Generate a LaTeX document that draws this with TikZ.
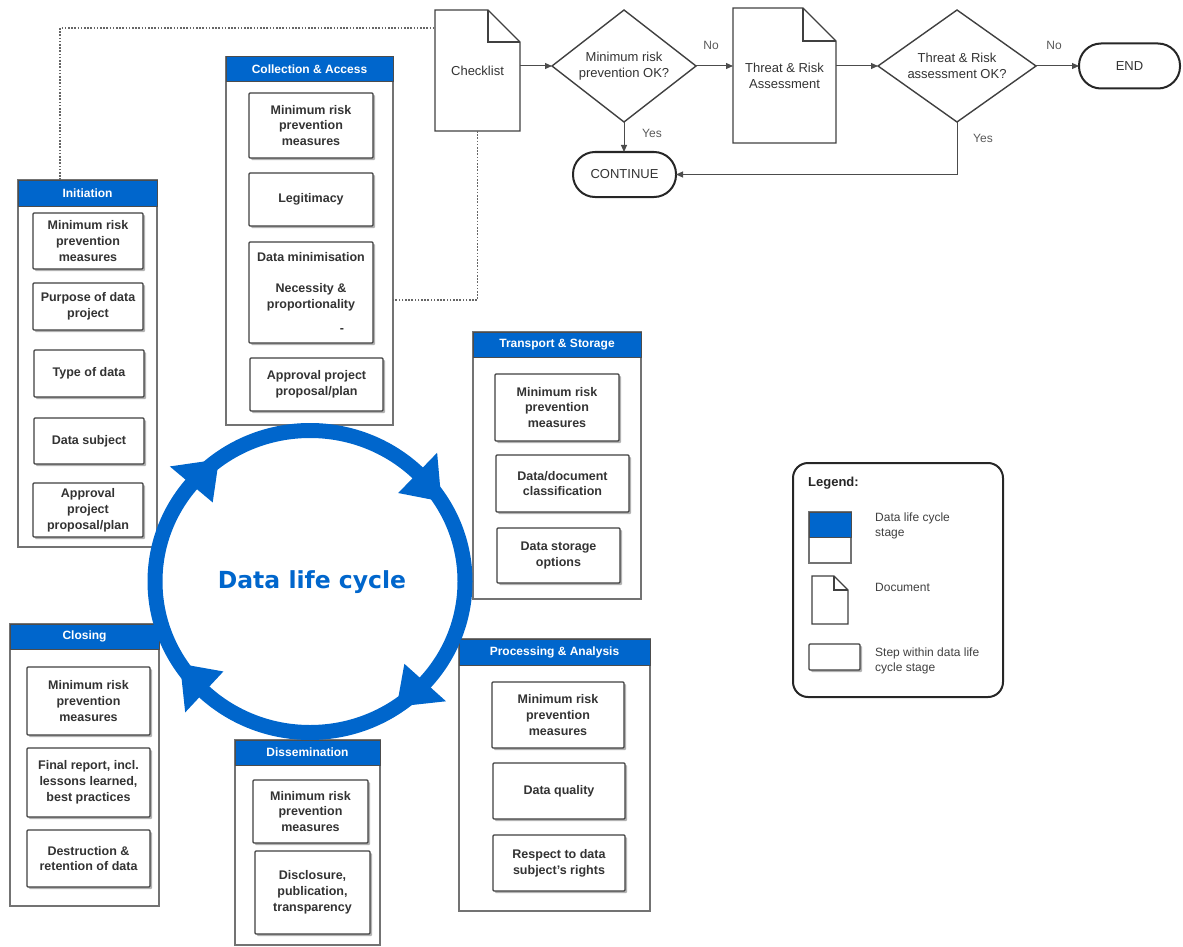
\documentclass[tikz,border=0pt]{standalone}
\usepackage{fontspec}
\setmainfont{Liberation Sans}
\newfontfamily\djv{DejaVu Sans}
\usetikzlibrary{arrows.meta,shadows,calc}
\definecolor{dlblue}{HTML}{0066CC}
\newcommand\boxfnt{\fontsize{12.5}{15.8}\selectfont\bfseries}
\newcommand\headfnt{\fontsize{12}{14}\selectfont\bfseries}
\newcommand\flowfnt{\fontsize{13}{16}\selectfont}
\newcommand\legfnt{\fontsize{12}{15}\selectfont}
\newcommand\boxat[7]{\node[#1, anchor=north west, minimum width={(#4)-(#2)}, minimum height={(#5)-(#3)}] (#6) at (#2,#3) {#7};}
\newcommand\docshape[2]{%
  \draw[docline] (#1.north west) -- ($(#1.north east)+(-#2,0)$) -- ($(#1.north east)+(0,#2)$) -- (#1.south east) -- (#1.south west) -- cycle;
  \draw[docline] ($(#1.north east)+(-#2,0)$) -- ($(#1.north east)+(-#2,#2)$) -- ($(#1.north east)+(0,#2)$);}
\begin{document}
\begin{tikzpicture}[x=1pt,y=-1pt,
  stagebox/.style={draw=black!55, line width=1.2pt, fill=white, inner sep=0pt, outer sep=0pt},
  stagehead/.style={draw=black!70, line width=1pt, fill=dlblue, text=white, font=\headfnt, inner sep=0pt, outer sep=0pt},
  stepbox/.style={draw=black!75, line width=1.2pt, fill=white, rounded corners=1pt, align=center, font=\boxfnt, text=black!80, inner sep=0pt, outer sep=0pt, drop shadow={shadow xshift=2pt, shadow yshift=-2pt, fill=black!30, opacity=1}},
  legbox/.style={draw=black!85, line width=2pt, rounded corners=15, fill=white, inner sep=0pt, outer sep=0pt},
  docnode/.style={align=center, font=\flowfnt, text=black!80, inner sep=0pt, outer sep=0pt},
  docline/.style={draw=black!75, line width=1.2pt, line join=miter},
  dline/.style={draw=black!75, line width=1.4pt},
  term/.style={draw=black!85, line width=2pt, rounded corners=22, font=\flowfnt, text=black!80, inner sep=0pt, outer sep=0pt},
  arr/.style={draw=black!70, line width=1pt, -{Triangle[length=7pt,width=6pt]}},
  dotline/.style={draw=black!60, line width=1.2pt, dash pattern=on 1.6pt off 1.6pt},
  lbl/.style={font=\fontsize{12}{14}\selectfont, text=black!65, inner sep=0pt},
  legtext/.style={font=\legfnt, text=black!75, align=left, inner sep=0pt, anchor=west},
]
\useasboundingbox (0,0) rectangle (1183,947);

% ---------- Initiation ----------
\boxat{stagebox}{18}{180}{157}{547}{init}{}
\boxat{stagehead}{18}{180}{157}{206}{inith}{Initiation}
\boxat{stepbox}{33}{213}{143}{269}{i1}{Minimum risk\\prevention\\measures}
\boxat{stepbox}{33}{283}{143}{330}{i2}{Purpose of data\\project}
\boxat{stepbox}{34}{350}{144}{397}{i3}{Type of data}
\boxat{stepbox}{34}{418}{144}{464}{i4}{Data subject}
\boxat{stepbox}{33}{483}{143}{537}{i5}{Approval\\project\\proposal/plan}

% ---------- Collection & Access ----------
\boxat{stagebox}{226}{57}{393}{425}{coll}{}
\boxat{stagehead}{226}{57}{393}{82}{collh}{Collection \& Access}
\boxat{stepbox}{249}{93}{373}{158}{c1}{Minimum risk\\prevention\\measures}
\boxat{stepbox}{249}{173}{373}{226}{c2}{Legitimacy}
\boxat{stepbox}{249}{242}{373}{343}{c3}{Data minimisation\\[15pt]Necessity \&\\proportionality\\[8pt]\hspace*{62pt}-}
\boxat{stepbox}{250}{358}{383}{411}{c4}{Approval project\\proposal/plan}

% ---------- Transport & Storage ----------
\boxat{stagebox}{473}{332}{641}{599}{trans}{}
\boxat{stagehead}{473}{332}{641}{357}{transh}{Transport \& Storage}
\boxat{stepbox}{495}{374}{619}{441}{t1}{Minimum risk\\prevention\\measures}
\boxat{stepbox}{496}{455}{629}{512}{t2}{Data/document\\classification}
\boxat{stepbox}{497}{528}{620}{583}{t3}{Data storage\\options}

% ---------- Processing & Analysis ----------
\boxat{stagebox}{459}{639}{650}{911}{proc}{}
\boxat{stagehead}{459}{639}{650}{665}{proch}{Processing \& Analysis}
\boxat{stepbox}{492}{682}{624}{748}{p1}{Minimum risk\\prevention\\measures}
\boxat{stepbox}{493}{763}{625}{819}{p2}{Data quality}
\boxat{stepbox}{493}{835}{625}{891}{p3}{Respect to data\\subject's rights}

% ---------- Closing ----------
\boxat{stagebox}{10}{624}{159}{906}{clos}{}
\boxat{stagehead}{10}{624}{159}{649}{closh}{Closing}
\boxat{stepbox}{27}{667}{150}{735}{cl1}{Minimum risk\\prevention\\measures}
\boxat{stepbox}{27}{748}{150}{817}{cl2}{Final report, incl.\\lessons learned,\\best practices}
\boxat{stepbox}{27}{830}{150}{887}{cl3}{Destruction \&\\retention of data}

% ---------- Dissemination ----------
\boxat{stagebox}{235}{740}{380}{945}{diss}{}
\boxat{stagehead}{235}{740}{380}{765}{dissh}{Dissemination}
\boxat{stepbox}{253}{780}{368}{843}{ds1}{Minimum risk\\prevention\\measures}
\boxat{stepbox}{255}{851}{370}{934}{ds2}{Disclosure,\\publication,\\transparency}

% ---------- Data life cycle ----------
\draw[dlblue, line width=15pt] (310,581.5) ellipse[x radius=155, y radius=151];
\begin{scope}[shift={(310,581.5)}, yscale=-1]
  \fill[dlblue] (126:155 and 151) -- (140:183 and 179) -- (140:127 and 123) -- cycle;
  \fill[dlblue] (32:155 and 151) -- (46:183 and 179) -- (46:127 and 123) -- cycle;
  \fill[dlblue] (-56:155 and 151) -- (-42:183 and 179) -- (-42:127 and 123) -- cycle;
  \fill[dlblue] (213:155 and 151) -- (227:183 and 179) -- (227:127 and 123) -- cycle;
\end{scope}
\node[font=\djv\bfseries\fontsize{23.5}{28}\selectfont, text=dlblue, inner sep=0pt] (dlc) at (312,582) {Data life cycle};

% ---------- Flowchart ----------
\node[docnode, minimum width=85, minimum height=121] (check) at (477.5,70.5) {Checklist};
\docshape{check}{32}
\node[docnode, minimum width=144, minimum height=112] (dec1) at (624,66) {Minimum risk\\prevention OK?};
\draw[dline] (dec1.west) -- (dec1.north) -- (dec1.east) -- (dec1.south) -- cycle;
\node[docnode, minimum width=103, minimum height=135] (tra) at (784.5,75.5) {Threat \& Risk\\Assessment};
\docshape{tra}{33}
\node[docnode, minimum width=158, minimum height=112] (dec2) at (957,66) {Threat \& Risk\\assessment OK?};
\draw[dline] (dec2.west) -- (dec2.north) -- (dec2.east) -- (dec2.south) -- cycle;
\node[term, minimum width=101, minimum height=45] (endn) at (1129.5,66) {END};
\node[term, minimum width=103, minimum height=45] (cont) at (624.5,174.5) {CONTINUE};

\draw[arr] (check.east |- dec1.west) -- (dec1.west);
\draw[arr] (dec1.east) -- (tra.west |- dec1.east);
\draw[arr] (tra.east |- dec2.west) -- (dec2.west);
\draw[arr] (dec2.east) -- (endn.west);
\draw[arr] (dec1.south) -- (cont.north -| dec1.south);
\draw[arr] (dec2.south) |- (cont.east);
\node[lbl] (no1) at (711,45) {No};
\node[lbl] (no2) at (1054,45) {No};
\node[lbl] (yes1) at (652,133) {Yes};
\node[lbl] (yes2) at (983,138) {Yes};

% dotted links
\coordinate (dotA) at ($(check.north west)+(0,18)$);
\coordinate (dotS) at ($(init.north west)+(42,0)$);
\coordinate (dotB) at ($(coll.north east)+(0,243)$);
\draw[dotline] (dotS) |- (dotA);
\draw[dotline] (check.south) |- (dotB);

% ---------- Legend ----------
\boxat{legbox}{793}{463}{1003}{697}{legend}{}
\node[legtext, font=\fontsize{13}{15}\selectfont\bfseries, text=black!85] (legt) at (808,483) {Legend:};
\boxat{stagebox}{809}{512}{851}{563}{lg1}{}
\boxat{stagehead}{809}{512}{851}{537}{lg1h}{}
\node[docnode, minimum width=36, minimum height=48] (lg2) at (830,600) {};
\docshape{lg2}{14}
\boxat{stepbox}{809}{644}{860}{670}{lg3}{}
\node[legtext] (lt1) at (875,526) {Data life cycle\\stage};
\node[legtext] (lt2) at (875,587) {Document};
\node[legtext] (lt3) at (875,660.5) {Step within data life\\cycle stage};
\end{tikzpicture}
\end{document}
